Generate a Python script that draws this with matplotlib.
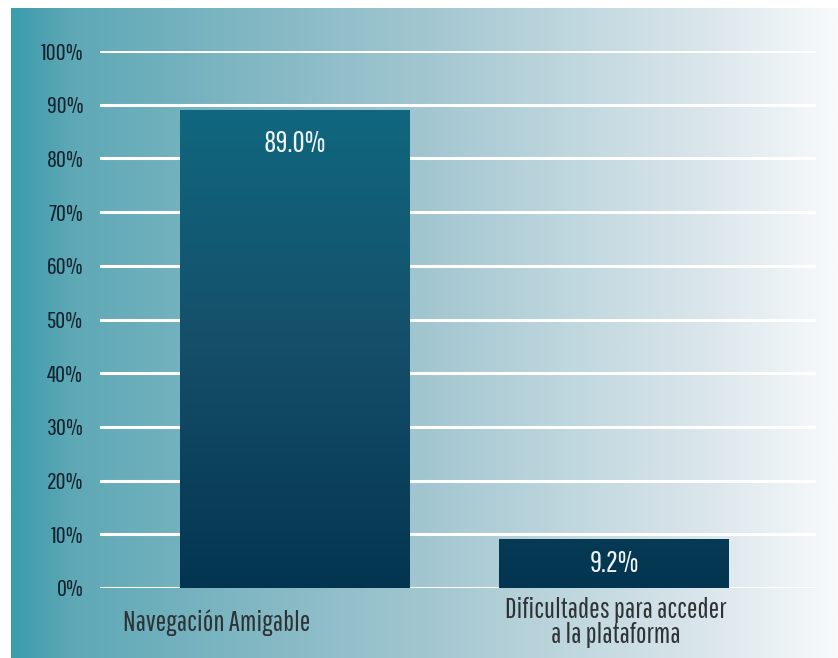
import matplotlib.pyplot as plt
import numpy as np
from matplotlib.colors import LinearSegmentedColormap

# datos del grafico
categorias = ["Navegación Amigable", "Dificultades para acceder\na la plataforma"]
valores = [89.0, 9.2]
etiquetas = ["89.0%", "9.2%"]
ticks_y = list(range(0, 101, 10))
ticks_lbl = [f"{t}%" for t in ticks_y]

plt.rcParams['font.family'] = ['Pathway Gothic One', 'Liberation Sans', 'DejaVu Sans']

W, H = 838, 658
fig = plt.figure(figsize=(W / 100, H / 100), dpi=100)
fig.patch.set_facecolor('white')

# fondo con degradado horizontal
fondo = fig.add_axes([11 / W, 0, (W - 11) / W, (H - 8) / H])
fondo.set_axis_off()
cmap_fondo = LinearSegmentedColormap.from_list(
    'fondo', [(0, '#3a9dac'), (0.04, '#4fa2b1'), (0.07, '#5ea8b6'),
              (0.5, '#a2c6d0'), (0.85, '#dce7ec'), (1, '#f8fafb')])
fondo.imshow(np.linspace(0, 1, 512)[None, :], aspect='auto', cmap=cmap_fondo,
             extent=[0, 1, 0, 1])

# ejes principales
x0, x1 = 100, 816
y0, y1 = 588, 51
ax = fig.add_axes([x0 / W, (H - y0) / H, (x1 - x0) / W, (y0 - y1) / H])
ax.patch.set_alpha(0)
for s in ax.spines.values():
    s.set_visible(False)

pos = np.arange(len(valores))
ancho = 0.72
ax.set_xlim(-0.611, 1.633)
ax.set_ylim(0, 100)
ax.set_yticks(ticks_y)
ax.set_yticklabels(ticks_lbl, fontsize=17.5, color='#15232e')
ax.tick_params(axis='y', length=0, pad=12)
ax.set_xticks([])
ax.grid(axis='y', color='white', lw=2.2, zorder=0)
ax.set_axisbelow(True)

cmap_barra = LinearSegmentedColormap.from_list(
    'barra', [(0, '#033550'), (0.5, '#154e69'), (1, '#10677f')])
grad = np.linspace(0, 1, 256)[:, None]
barras = ax.bar(pos, valores, width=ancho, color='none', zorder=2)
for b, v in zip(barras, valores):
    xb = b.get_x()
    im = ax.imshow(grad, aspect='auto', cmap=cmap_barra, origin='lower',
                   extent=[xb, xb + ancho, 0, 89], zorder=2)
    im.set_clip_path(b)

# etiquetas de valor
ax.text(pos[0], valores[0] - 6.3, etiquetas[0], ha='center', va='center',
        color='#eef4f6', fontsize=21.5, zorder=3)
ax.text(pos[1], valores[1] / 2, etiquetas[1], ha='center', va='center',
        color='#eef4f6', fontsize=21.5, zorder=3)

# etiquetas de categoria
desplaz = [-0.245, 0.005]
for p, c, d in zip(pos, categorias, desplaz):
    ax.text(p + d, -6.4, c, ha='center', va='center', color='#2e3336',
            fontsize=20.3, linespacing=0.97, clip_on=False)

fig.savefig('out.png', dpi=100)
